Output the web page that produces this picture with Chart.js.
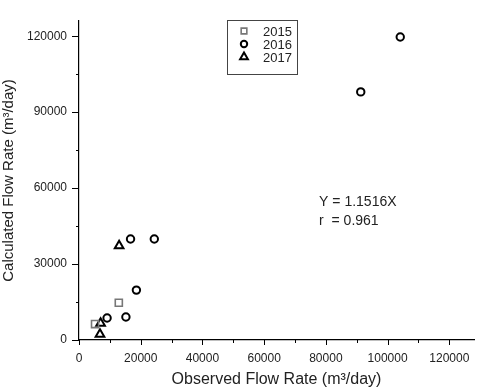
<!DOCTYPE html>
<html>
<head>
<meta charset="utf-8">
<script src="https://cdn.jsdelivr.net/npm/chart.js@4.4.1/dist/chart.umd.min.js"></script>
<style>
  html, body { margin: 0; padding: 0; background: #fff; }
  #wrap { width: 481px; height: 389px; }
</style>
</head>
<body>
<div id="wrap"><canvas id="flowCanvas" width="481" height="389"></canvas></div>
<script>
// observed (x) vs calculated (y) flow rate, m3/day
var years = ['2015', '2016', '2017'];
var obs2015 = [5200, 12900];
var calc2015 = [6300, 14700];
var obs2016 = [9100, 15200, 16700, 18600, 24400, 91300, 104100];
var calc2016 = [8700, 9100, 39900, 19700, 39900, 98000, 119700];
var obs2017 = [6800, 7000, 13000];
var calc2017 = [2300, 6600, 37200];
var xTicks = [0, 20000, 40000, 60000, 80000, 100000, 120000];
var yTicks = [0, 30000, 60000, 90000, 120000];
var fitText = ['Y = 1.1516X', 'r  = 0.961'];

var FONT = '"Liberation Sans", Arial, sans-serif';
var INK = '#222';

function pts(xs, ys) {
    var out = [];
    for (var i = 0; i < xs.length; i++) out.push({ x: xs[i], y: ys[i] });
    return out;
}

var styles = [
    { pointStyle: 'rect', radius: 5, color: '#777', width: 1.6 },
    { pointStyle: 'circle', radius: 3.7, color: '#000', width: 2 },
    { pointStyle: 'triangle', radius: 5, color: '#000', width: 2 }
];
var series = [pts(obs2015, calc2015), pts(obs2016, calc2016), pts(obs2017, calc2017)];

var datasets = years.map(function (yr, i) {
    return {
        label: yr,
        data: series[i],
        pointStyle: styles[i].pointStyle,
        pointRadius: styles[i].radius,
        pointHoverRadius: styles[i].radius,
        borderColor: styles[i].color,
        borderWidth: styles[i].width,
        backgroundColor: 'rgba(0,0,0,0)'
    };
});

// ticks (major + minor), legend box and fit text
var decor = {
    id: 'decor',
    afterDraw: function (chart) {
        var ctx = chart.ctx;
        var xs = chart.scales.x, ys = chart.scales.y;
        var area = chart.chartArea;
        ctx.save();
        ctx.strokeStyle = '#000';
        ctx.lineWidth = 1;
        ctx.beginPath();
        for (var v = 0; v <= 120000; v += 10000) {
            var px = Math.round(xs.getPixelForValue(v)) + 0.5;
            var len = (v % 20000 === 0) ? 5 : 3;
            ctx.moveTo(px, area.bottom);
            ctx.lineTo(px, area.bottom + len);
        }
        for (var w = 0; w <= 120000; w += 15000) {
            var py = Math.round(ys.getPixelForValue(w)) + 0.5;
            var l2 = (w % 30000 === 0) ? 7 : 3;
            ctx.moveTo(area.left, py);
            ctx.lineTo(area.left - l2, py);
        }
        ctx.stroke();

        // legend
        ctx.strokeStyle = '#444';
        ctx.strokeRect(227.5, 20.5, 70, 54);
        var rows = [31, 44, 57];
        var legR = [4, 3.2, 4.5];
        ctx.font = '13px ' + FONT;
        ctx.textBaseline = 'middle';
        ctx.textAlign = 'left';
        for (var i = 0; i < years.length; i++) {
            ctx.strokeStyle = styles[i].color;
            ctx.fillStyle = 'rgba(0,0,0,0)';
            ctx.lineWidth = styles[i].width;
            Chart.helpers.drawPoint(ctx, {
                pointStyle: styles[i].pointStyle,
                radius: legR[i],
                borderWidth: styles[i].width
            }, 244, rows[i]);
            ctx.fillStyle = INK;
            ctx.fillText(years[i], 263, rows[i] + 1);
        }

        // fit equation
        ctx.font = '14px ' + FONT;
        ctx.fillStyle = INK;
        var tx = xs.getPixelForValue(77800);
        var ty = ys.getPixelForValue(54500);
        ctx.fillText(fitText[0], tx, ty);
        ctx.fillText(fitText[1], tx, ty + 19);
        ctx.restore();
    }
};

var ctx = document.getElementById('flowCanvas').getContext('2d');
var chart = new Chart(ctx, {
    type: 'scatter',
    data: { datasets: datasets },
    options: {
        responsive: false,
        animation: false,
        layout: { padding: { top: 21, right: 4, left: 0, bottom: 0 } },
        plugins: {
            legend: { display: false },
            tooltip: { enabled: false }
        },
        scales: {
            x: {
                type: 'linear',
                min: 0,
                max: 128000,
                afterBuildTicks: function (s) { s.ticks = xTicks.map(function (v) { return { value: v }; }); },
                afterFit: function (s) { s.height = 49; },
                grid: { display: false, drawTicks: false },
                border: { display: true, color: '#000', width: 1.2 },
                ticks: {
                    padding: 11,
                    maxRotation: 0,
                    autoSkip: false,
                    color: INK,
                    font: { family: FONT, size: 12 },
                    callback: function (v) { return String(v); }
                },
                title: {
                    display: true,
                    text: 'Observed Flow Rate (m³/day)',
                    color: INK,
                    font: { family: FONT, size: 16 },
                    padding: { top: 3, bottom: 0 }
                }
            },
            y: {
                type: 'linear',
                min: 0,
                max: 126000,
                afterBuildTicks: function (s) { s.ticks = yTicks.map(function (v) { return { value: v }; }); },
                afterFit: function (s) { s.width = 79; },
                grid: { display: false, drawTicks: false },
                border: { display: true, color: '#000', width: 1.2 },
                ticks: {
                    padding: 12,
                    autoSkip: false,
                    color: INK,
                    font: { family: FONT, size: 12 },
                    callback: function (v) { return String(v); }
                },
                title: {
                    display: true,
                    text: 'Calculated Flow Rate (m³/day)',
                    color: INK,
                    font: { family: FONT, size: 15 },
                    padding: { top: 0, bottom: 4 }
                }
            }
        }
    },
    plugins: [decor]
});
</script>
</body>
</html>
